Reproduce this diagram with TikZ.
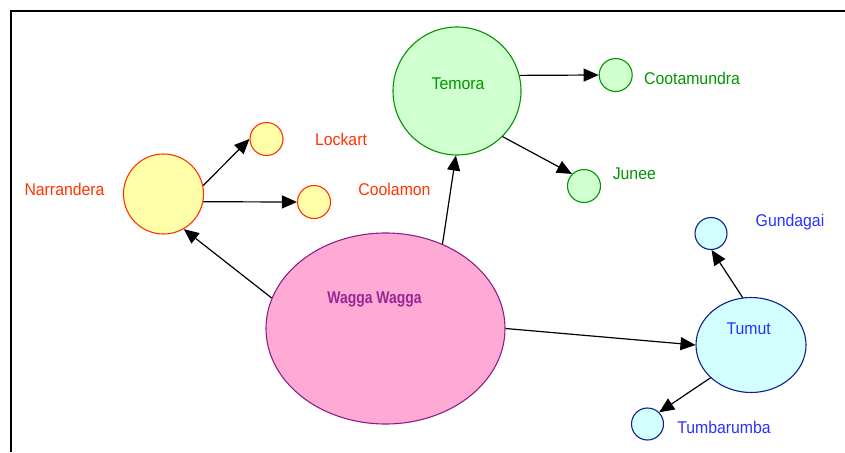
\documentclass[tikz,border=0pt]{standalone}
\usepackage{fontspec}
\setmainfont[FakeStretch=0.93]{Liberation Sans}
\newfontfamily\wwfont[FakeStretch=0.82]{Liberation Sans}
\usetikzlibrary{shapes.geometric,arrows.meta}
\definecolor{wwfill}{RGB}{255,170,213}
\definecolor{wwline}{RGB}{140,30,140}
\definecolor{wwtext}{RGB}{150,40,150}
\definecolor{yfill}{RGB}{255,255,170}
\definecolor{rline}{RGB}{255,51,0}
\definecolor{gfill}{RGB}{208,255,208}
\definecolor{gline}{RGB}{0,150,0}
\definecolor{cfill}{RGB}{210,255,255}
\definecolor{bline}{RGB}{20,30,140}
\definecolor{btext}{RGB}{40,50,255}
\tikzset{
  town/.style={circle,inner sep=0pt,line width=1.1pt},
  yel/.style={town,draw=rline,fill=yfill},
  grn/.style={town,draw=gline,fill=gfill},
  cyn/.style={town,draw=bline,fill=cfill},
  lbl/.style={anchor=base,inner sep=0pt,font=\fontsize{17}{20}\selectfont},
  link/.style={line width=1.2pt,-{Triangle[length=15pt,width=13pt]}},
}
\begin{document}
\begin{tikzpicture}[x=1pt,y=-1pt]
\useasboundingbox (0,0) rectangle (845,452);
\draw[line width=2pt] (11,452) -- (11,11) -- (845,11);
% nodes
\node[ellipse,inner sep=0pt,line width=1.1pt,draw=wwline,fill=wwfill,minimum width=239pt,minimum height=191pt] (ww) at (385.5,328.5) {};
\node[yel,minimum size=80pt] (nar) at (163.5,194) {};
\node[yel,minimum size=33pt] (lock) at (266.5,139) {};
\node[yel,minimum size=33pt] (cool) at (314,202) {};
\node[grn,minimum size=128pt] (tem) at (457,91) {};
\node[grn,minimum size=33pt] (coot) at (615.7,75) {};
\node[grn,minimum size=33pt] (jun) at (584,186) {};
\node[ellipse,inner sep=0pt,line width=1.1pt,draw=bline,fill=cfill,minimum width=110pt,minimum height=95pt] (tum) at (751,345) {};
\node[cyn,minimum size=32pt] (gun) at (711,233.5) {};
\node[cyn,minimum size=32pt] (tmb) at (647.5,424) {};
% labels
\node[lbl,text=wwtext,font=\wwfont\bfseries\fontsize{17}{20}\selectfont] (lww) at (374.5,303.5) {Wagga Wagga};
\node[lbl,text=rline] (lnar) at (64.5,195) {Narrandera};
\node[lbl,text=rline] (llock) at (341,145) {Lockart};
\node[lbl,text=rline] (lcool) at (394.5,195) {Coolamon};
\node[lbl,text=gline] (ltem) at (458,89) {Temora};
\node[lbl,text=gline] (lcoot) at (692,84) {Cootamundra};
\node[lbl,text=gline] (ljun) at (634.3,179) {Junee};
\node[lbl,text=btext] (ltum) at (748.7,334) {Tumut};
\node[lbl,text=btext] (lgun) at (790,226) {Gundagai};
\node[lbl,text=btext] (ltmb) at (724,433) {Tumbarumba};
% connectors
\draw[link] (ww.165) -- (nar.-60);
\draw[link] (ww.56) -- (tem.-91);
\draw[link] (ww.east) -- (tum.west);
\draw[link] (nar.12) -- (lock.west);
\draw[link] (nar.-11.5) -- (cool.west);
\draw[link] (tem.14.5) -- (coot.west);
\draw[link] (tem.-45) -- (jun.135);
\draw[link] (tum.100) -- (gun.-88);
\draw[link] (tum.-141) -- (tmb.45);
\end{tikzpicture}
\end{document}
